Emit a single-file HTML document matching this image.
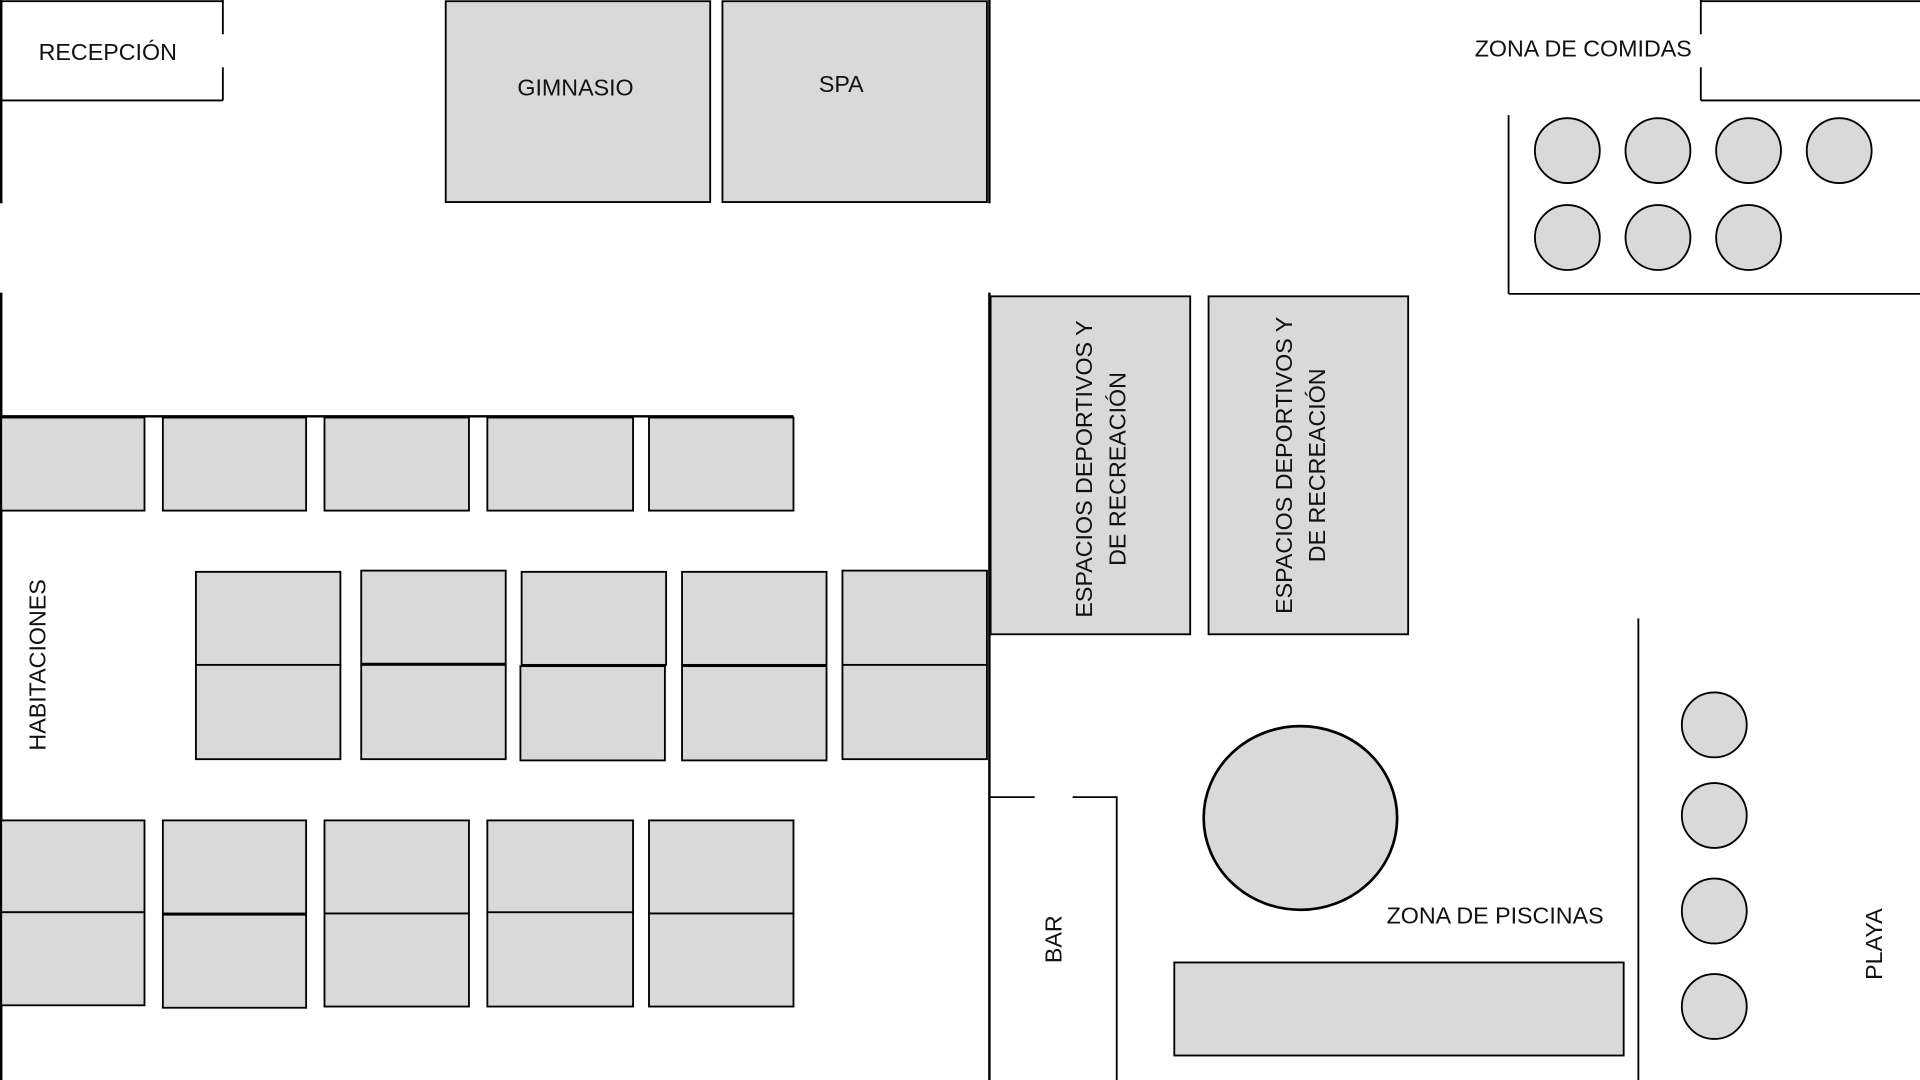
<!DOCTYPE html>
<html><head><meta charset="utf-8"><style>html,body{margin:0;padding:0;background:#fff;}svg{display:block}</style></head>
<body>
<svg width="1920" height="1080" viewBox="0 0 1568 882" xmlns="http://www.w3.org/2000/svg" font-family="Liberation Sans, sans-serif" font-size="19" fill="#000">
<g stroke="#000" stroke-width="1.5" fill="none">
<!-- reception -->
<line x1="0" y1="1" x2="182" y2="1"/>
<line x1="0" y1="82" x2="182" y2="82"/>
<line x1="182" y1="0" x2="182" y2="28"/>
<line x1="182" y1="55" x2="182" y2="82"/>
<line x1="1" y1="0" x2="1" y2="166" stroke-width="2"/>
<line x1="1" y1="239" x2="1" y2="882" stroke-width="2"/>
<line x1="808" y1="0" x2="808" y2="166" stroke-width="2"/>
<line x1="808" y1="239" x2="808" y2="882" stroke-width="2"/>
<!-- comidas -->
<line x1="1389" y1="1" x2="1568" y2="1"/>
<line x1="1389" y1="82" x2="1568" y2="82"/>
<line x1="1389" y1="0" x2="1389" y2="28"/>
<line x1="1389" y1="55" x2="1389" y2="82"/>
<line x1="1232" y1="94" x2="1232" y2="240"/>
<line x1="1232" y1="240" x2="1568" y2="240"/>
<line x1="0" y1="340" x2="648" y2="340" stroke-width="2"/>
<line x1="1338" y1="505" x2="1338" y2="882"/>
<!-- bar -->
<polyline points="808,651 845,651"/>
<polyline points="876,651 912,651 912,882"/>
</g>
<g stroke="#000" stroke-width="1.5" fill="#d9d9d9">
<rect x="364" y="1" width="216" height="164"/>
<rect x="590" y="1" width="216" height="164"/>
<rect x="809" y="242" width="163" height="276"/>
<rect x="987" y="242" width="163" height="276"/>
<rect x="1" y="341" width="117" height="76"/>
<rect x="133" y="341" width="117" height="76"/>
<rect x="265" y="341" width="118" height="76"/>
<rect x="398" y="341" width="119" height="76"/>
<rect x="530" y="341" width="118" height="76"/>
<rect x="160" y="467" width="118" height="76"/><rect x="160" y="543" width="118" height="77"/>
<rect x="295" y="466" width="118" height="76"/><rect x="295" y="543" width="118" height="77"/>
<rect x="426" y="467" width="118" height="76"/><rect x="425" y="544" width="118" height="77"/>
<rect x="557" y="467" width="118" height="76"/><rect x="557" y="544" width="118" height="77"/>
<rect x="688" y="466" width="118" height="77"/><rect x="688" y="543" width="118" height="77"/>
<rect x="1" y="670" width="117" height="75"/><rect x="1" y="745" width="117" height="76"/>
<rect x="133" y="670" width="117" height="76"/><rect x="133" y="747" width="117" height="76"/>
<rect x="265" y="670" width="118" height="76"/><rect x="265" y="746" width="118" height="76"/>
<rect x="398" y="670" width="119" height="76"/><rect x="398" y="745" width="119" height="77"/>
<rect x="530" y="670" width="118" height="76"/><rect x="530" y="746" width="118" height="76"/>
<rect x="959" y="786" width="367" height="76"/>
<circle cx="1280" cy="123" r="26.5"/><circle cx="1354" cy="123" r="26.5"/><circle cx="1428" cy="123" r="26.5"/><circle cx="1502" cy="123" r="26.5"/>
<circle cx="1280" cy="194" r="26.5"/><circle cx="1354" cy="194" r="26.5"/><circle cx="1428" cy="194" r="26.5"/>
<circle cx="1400" cy="592" r="26.5"/><circle cx="1400" cy="666" r="26.5"/><circle cx="1400" cy="744" r="26.5"/><circle cx="1400" cy="822" r="26.5"/>
<ellipse cx="1062" cy="668" rx="79" ry="75" stroke-width="2.2"/>
</g>
<g stroke="none" fill="#111">
<text x="88" y="49" text-anchor="middle">RECEPCIÓN</text>
<text x="470" y="78" text-anchor="middle">GIMNASIO</text>
<text x="687" y="75" text-anchor="middle">SPA</text>
<text x="1293" y="46" text-anchor="middle">ZONA DE COMIDAS</text>
<text x="1221" y="754" text-anchor="middle">ZONA DE PISCINAS</text>
<text transform="translate(37,543) rotate(-90)" text-anchor="middle">HABITACIONES</text>
<text transform="translate(867,767) rotate(-90)" text-anchor="middle">BAR</text>
<text transform="translate(1537,771) rotate(-90)" text-anchor="middle">PLAYA</text>
<text transform="translate(892,383) rotate(-90)" text-anchor="middle">ESPACIOS DEPORTIVOS Y</text>
<text transform="translate(919,383) rotate(-90)" text-anchor="middle">DE RECREACIÓN</text>
<text transform="translate(1055,380) rotate(-90)" text-anchor="middle">ESPACIOS DEPORTIVOS Y</text>
<text transform="translate(1082,380) rotate(-90)" text-anchor="middle">DE RECREACIÓN</text>
</g>
</svg>
</body></html>
